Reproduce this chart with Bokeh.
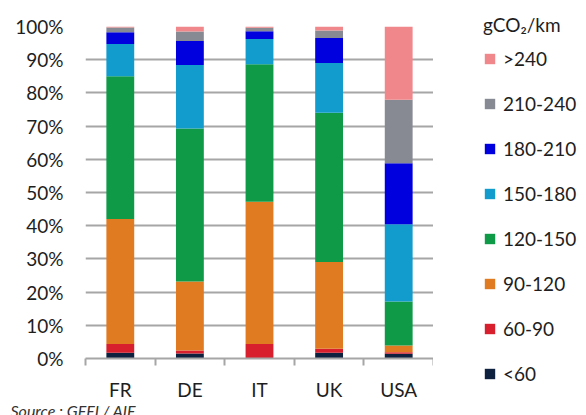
from bokeh.plotting import figure
from bokeh.layouts import row, column
from bokeh.models import (ColumnDataSource, FixedTicker, Legend, LegendItem,
                          PrintfTickFormatter, Label, Range1d)
from bokeh.embed import file_html
from bokeh.resources import INLINE

countries = ["FR", "DE", "IT", "UK", "USA"]
bands = ["<60", "60-90", "90-120", "120-150", "150-180", "180-210", "210-240", ">240"]
b_lt60 = [1.7, 1.5, 0.0, 1.7, 1.4]
b_60_90 = [2.7, 0.9, 4.4, 1.2, 0.5]
b_90_120 = [37.6, 20.8, 42.8, 26.2, 2.0]
b_120_150 = [43.0, 46.1, 41.4, 44.9, 13.3]
b_150_180 = [9.7, 19.1, 7.6, 15.0, 23.2]
b_180_210 = [3.6, 7.2, 2.4, 7.5, 18.4]
b_210_240 = [1.4, 2.9, 1.0, 2.3, 19.1]
b_gt240 = [0.3, 1.5, 0.4, 1.2, 22.1]
colors = ["#0E2240", "#D71F2E", "#E07B22", "#0F9A48", "#129CCD", "#0000DE", "#878A93", "#F0878A"]
y_ticks = list(range(0, 101, 10))
legend_title = "gCO\u2082/km"
source_note = "Source : GFEI / AIE"

series = [b_lt60, b_60_90, b_90_120, b_120_150, b_150_180, b_180_210, b_210_240, b_gt240]
data = {"x": [i + 0.5 for i in range(len(countries))], "country": countries}
for name, vals in zip(bands, series):
    data[name] = vals
src = ColumnDataSource(data)

FONT = "Lato"
TXT = "#1E1E1E"
GRID = "#A6A6A6"
MAIN_H = 403

p = figure(width=433, height=MAIN_H, output_backend="svg", toolbar_location=None,
           x_range=Range1d(0, len(countries)), y_range=Range1d(0, 100),
           min_border_left=85, min_border_right=0, min_border_top=26, min_border_bottom=0)
p.outline_line_color = None
p.background_fill_color = "white"

renderers = p.vbar_stack(bands, x="x", width=0.4, color=colors, source=src, line_color=None)

# y axis
p.yaxis.ticker = FixedTicker(ticks=y_ticks)
p.yaxis.formatter = PrintfTickFormatter(format="%d%%")
p.yaxis.axis_line_color = None
p.yaxis.major_tick_line_color = None
p.yaxis.minor_tick_line_color = None
p.yaxis.major_tick_out = 0
p.yaxis.major_tick_in = 0
p.yaxis.major_label_standoff = 22
p.yaxis.major_label_text_font = FONT
p.yaxis.major_label_text_font_size = "19px"
p.yaxis.major_label_text_color = TXT

# x axis: labels at centres, tick marks at category boundaries
p.xaxis.ticker = FixedTicker(ticks=data["x"], minor_ticks=list(range(len(countries) + 1)))
p.xaxis.major_label_overrides = {x: c for x, c in zip(data["x"], countries)}
p.xaxis.axis_line_color = GRID
p.xaxis.axis_line_width = 2
p.xaxis.major_tick_line_color = None
p.xaxis.major_tick_out = 0
p.xaxis.major_tick_in = 0
p.xaxis.minor_tick_line_color = GRID
p.xaxis.minor_tick_line_width = 2
p.xaxis.minor_tick_in = 0
p.xaxis.minor_tick_out = 7
p.xaxis.major_label_standoff = 12
p.xaxis.major_label_text_font = FONT
p.xaxis.major_label_text_font_size = "19px"
p.xaxis.major_label_text_color = TXT

p.xgrid.grid_line_color = None
p.ygrid.ticker = FixedTicker(ticks=y_ticks)
p.ygrid.grid_line_color = GRID
p.ygrid.grid_line_width = 2

# legend panel (no axes, no title: the frame fills the whole panel)
lg = figure(width=153, height=MAIN_H, output_backend="svg", toolbar_location=None,
            x_range=Range1d(0, 1), y_range=Range1d(0, 1), title=None,
            x_axis_location=None, y_axis_location=None,
            min_border_left=0, min_border_right=0, min_border_top=0, min_border_bottom=0)
lg.grid.visible = False
lg.outline_line_color = None
# do not align this panel's frame with the chart's frame
for fig in (p, lg):
    try:
        fig.frame_align = False
    except Exception:
        pass
# zero-height bars: they only supply legend swatches
lg_renderers = [lg.vbar(x="x", top=0, bottom=0, width=0.4, color=c, line_color=None, source=src)
                for c in colors]

items = [LegendItem(label=b, renderers=[r]) for b, r in zip(bands, lg_renderers)][::-1]
legend = Legend(items=items, location=(50, 18), title=legend_title,
                title_text_font=FONT, title_text_font_size="19px", title_text_font_style="normal",
                title_text_color=TXT, title_standoff=11,
                label_text_font=FONT, label_text_font_size="19px", label_text_color=TXT,
                glyph_width=13, glyph_height=13, label_height=20, label_standoff=7,
                spacing=22, padding=5, margin=0,
                border_line_color=None, background_fill_color=None, background_fill_alpha=0)
lg.add_layout(legend, "center")

# source note strip
note = figure(width=586, height=415 - MAIN_H, output_backend="svg", toolbar_location=None,
              x_range=Range1d(0, 1), y_range=Range1d(0, 1), title=None,
              x_axis_location=None, y_axis_location=None,
              min_border_left=0, min_border_right=0, min_border_top=0, min_border_bottom=0)
note.grid.visible = False
note.outline_line_color = None
note.add_layout(Label(x=10, y=5, x_units="screen", y_units="screen", text=source_note,
                      text_font=FONT, text_font_size="16px", text_font_style="italic",
                      text_color="#333333", text_baseline="middle"))

layout = column(row(p, lg, spacing=0), note, spacing=0)
open("out.html", "w").write(file_html(layout, INLINE))
